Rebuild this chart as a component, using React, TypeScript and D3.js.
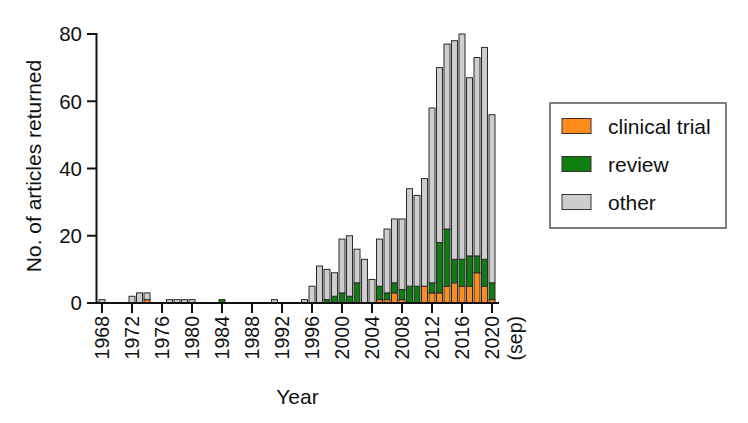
import React from "react";
import * as d3 from "d3";

const years: number[] = d3.range(1968, 2021);
// values per year 1968..2020
const totals: number[] = [
  1, 0, 0, 0, 2, 3, 3, 0, 0, 1, 1, 1, 1, 0, 0, 0, 1, 0, 0, 0, 0, 0, 0, 1, 0, 0, 0, 1,
  5, 11, 10, 9, 19, 20, 16, 13, 7, 19, 22, 25, 25, 34, 32, 37, 58, 70, 77, 78, 80, 67, 73, 76, 56,
];
const clinicalTrial: number[] = [
  0, 0, 0, 0, 0, 0, 1, 0, 0, 0, 0, 0, 0, 0, 0, 0, 0, 0, 0, 0, 0, 0, 0, 0, 0, 0, 0, 0,
  0, 0, 0, 0, 0, 0, 0, 0, 0, 1, 1, 3, 1, 0, 0, 5, 3, 3, 5, 6, 5, 5, 9, 5, 1,
];
const review: number[] = [
  0, 0, 0, 0, 0, 0, 0, 0, 0, 0, 0, 0, 0, 0, 0, 0, 1, 0, 0, 0, 0, 0, 0, 0, 0, 0, 0, 0,
  0, 0, 1, 2, 3, 2, 6, 0, 0, 4, 2, 3, 3, 5, 5, 0, 3, 15, 17, 7, 8, 9, 5, 8, 5,
];
const other: number[] = totals.map((t, i) => t - clinicalTrial[i] - review[i]);

const seriesKeys = ["clinical trial", "review", "other"];
const seriesColors = ["#FF8C1A", "#0F7D0F", "#CDCDCD"];
const yTicks = [0, 20, 40, 60, 80];
const xTicks = d3.range(1968, 2021, 4);

export default function App() {
  const x = d3.scaleLinear().domain([1968, 2020]).range([102, 492]);
  const y = d3.scaleLinear().domain([0, 80]).range([303, 34]);
  const rows = years.map((yr, i) => ({
    year: yr,
    "clinical trial": clinicalTrial[i],
    review: review[i],
    other: other[i],
  }));
  const stack = d3.stack<any>().keys(seriesKeys)(rows);
  const bw = 6;
  const font = "'Liberation Sans', Arial, Helvetica, sans-serif";

  return (
    <svg
      width={748}
      height={423}
      style={{ position: "absolute", left: 0, top: 0, background: "#fff" }}
      fontFamily={font}
    >
      <rect x={0} y={0} width={748} height={423} fill="#fff" />
      {stack.map((s, si) => (
        <g key={seriesKeys[si]}>
          {s.map((d, i) => {
            const v = d[1] - d[0];
            if (v <= 0) return null;
            return (
              <rect
                key={i}
                x={x(years[i]) - bw / 2}
                y={y(d[1])}
                width={bw}
                height={y(d[0]) - y(d[1])}
                fill={seriesColors[si]}
                stroke="#2a2a2a"
                strokeWidth={1}
              />
            );
          })}
        </g>
      ))}
      {/* y axis */}
      <line x1={96.5} x2={96.5} y1={33} y2={304} stroke="#111" strokeWidth={2} />
      {yTicks.map((t) => (
        <g key={t}>
          <line x1={87} x2={96.5} y1={y(t)} y2={y(t)} stroke="#111" strokeWidth={2} />
          <text x={82} y={y(t)} dy="0.36em" textAnchor="end" fontSize={20.5} fill="#111">
            {t}
          </text>
        </g>
      ))}
      {/* x axis */}
      <line x1={95.5} x2={499} y1={303} y2={303} stroke="#111" strokeWidth={2} />
      {xTicks.map((t) => (
        <g key={t}>
          <line x1={x(t)} x2={x(t)} y1={303} y2={313} stroke="#111" strokeWidth={2} />
          <text
            transform={`translate(${x(t)},316) rotate(-90)`}
            dy="0.36em"
            textAnchor="end"
            fontSize={19.5}
            fill="#111"
          >
            {t}
            {t === 2020 ? (
              <tspan x={0} dy="1.2em">
                (sep)
              </tspan>
            ) : null}
          </text>
        </g>
      ))}
      <text x={297.5} y={404} textAnchor="middle" fontSize={21} fill="#111">
        Year
      </text>
      <text
        transform="translate(41,166) rotate(-90)"
        textAnchor="middle"
        fontSize={21}
        fill="#111"
      >
        No. of articles returned
      </text>
      {/* legend */}
      <rect x={550} y={103} width={176} height={125} fill="#fff" stroke="#555" strokeWidth={1.5} />
      {seriesKeys.map((k, i) => (
        <g key={k} transform={`translate(0,${126 + i * 38})`}>
          <rect x={562} y={-7.5} width={29} height={15} fill={seriesColors[i]} stroke="#333" strokeWidth={1} />
          <text x={608} y={0} dy="0.36em" fontSize={21} fill="#111">
            {k}
          </text>
        </g>
      ))}
    </svg>
  );
}
